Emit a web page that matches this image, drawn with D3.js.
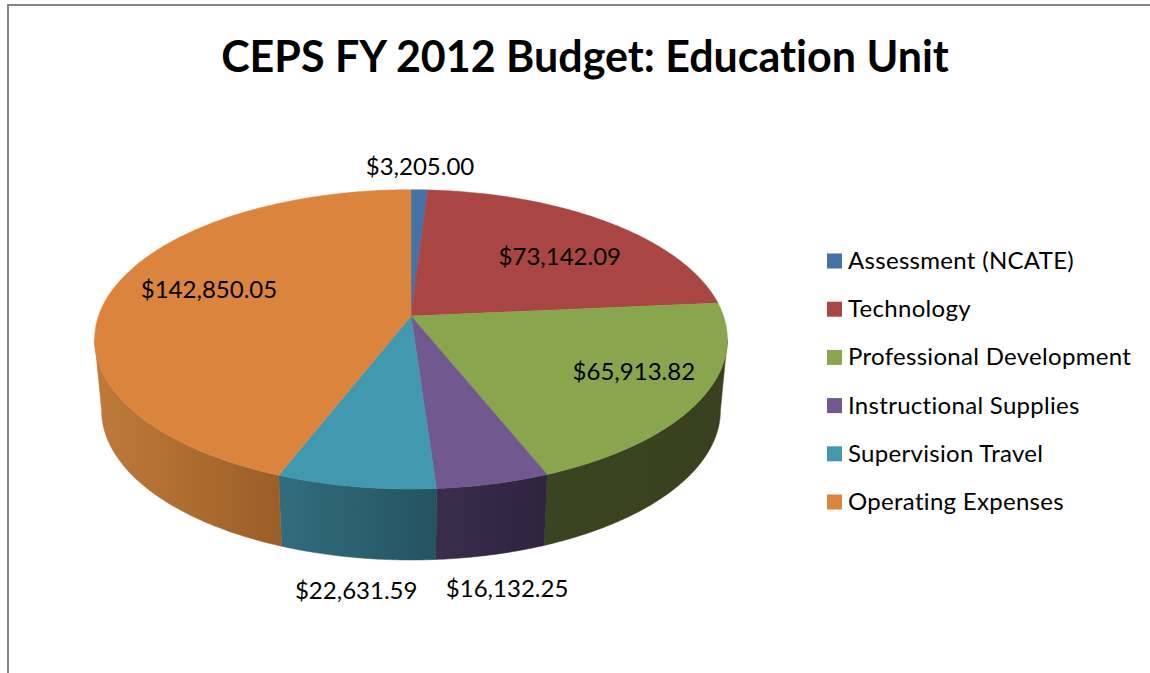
<!DOCTYPE html>
<html>
<head>
<meta charset="utf-8">
<title>CEPS FY 2012 Budget: Education Unit</title>
<script src="https://cdn.jsdelivr.net/npm/d3@7"></script>
<style>
    html, body { margin: 0; padding: 0; background: #fff; overflow: hidden; }
    svg { display: block; }
    text { font-family: Lato, "Open Sans", sans-serif; fill: #000; font-variant-ligatures: none; }
</style>
</head>
<body>
<div id="chart"></div>
<script>
var chartTitle = "CEPS FY 2012 Budget: Education Unit";
var categories = ["Assessment (NCATE)", "Technology", "Professional Development", "Instructional Supplies", "Supervision Travel", "Operating Expenses"];
var budget = [3205.00, 73142.09, 65913.82, 16132.25, 22631.59, 142850.05];

var topColors = ["#4573a7", "#a94543", "#89a54e", "#71588f", "#4198af", "#db843d"];
var wallLeft = ["#2c4a6c", "#6d2c2b", "#3b4421", "#3a2c4b", "#326d7e", "#bf7a39"];
var wallRight = ["#2c4a6c", "#6d2c2b", "#39401f", "#2f2340", "#245361", "#9b5e28"];

// label nudges from the point 3/4 of the way out on each slice
var labelNudge = [[2.5, -51], [-2, 13], [10, -5], [37, 153], [-15, 153], [23.5, -6]];

var w = 1150, h = 673;
var cx = 411, cy = 316;
var radiusX = 312.5, radiusY = 146;
var tilt = 0.156;                  // perspective, near edge of the pie comes out bigger
var depth = 71, bottomShrink = 0.978;

var svg = d3.select("#chart").append("svg")
    .attr("width", w)
    .attr("height", h);

// Chart frame, only the top and left edges are inside the picture
svg.append("path")
    .attr("d", d3.line()([[8, h], [8, 5], [w, 5]]))
    .attr("fill", "none")
    .attr("stroke", "#868686")
    .attr("stroke-width", 2);

svg.append("text")
    .attr("x", 585)
    .attr("y", 72)
    .attr("text-anchor", "middle")
    .attr("font-size", 43)
    .attr("font-weight", 700)
    .text(chartTitle);

var slices = d3.pie().sort(null)(budget);

// Angle is clockwise from the top like d3.pie, r is a fraction of the radius
function project(angle, r) {
    var u = Math.sin(angle) * r;
    var v = -Math.cos(angle) * r;
    var den = 1 - tilt * v;
    return [cx + radiusX * u / den, cy + radiusY * v / den];
}

function projectBottom(angle) {
    var p = project(angle, 1);
    return [cx + (p[0] - cx) * bottomShrink, p[1] + depth];
}

function arcAngles(a0, a1) {
    var n = Math.max(2, Math.ceil(Math.abs(a1 - a0) / 0.01));
    return d3.range(n + 1).map(function(i) { return a0 + (a1 - a0) * i / n; });
}

var line = d3.line();

// The side wall shows only between the two points where the rim turns back
var wallFrom = Math.PI - Math.acos(tilt);
var wallTo = Math.PI + Math.acos(tilt);

var defs = svg.append("defs");

slices.forEach(function(s, i) {
    var a0 = Math.max(s.startAngle, wallFrom);
    var a1 = Math.min(s.endAngle, wallTo);
    if (a1 <= a0) return;

    var angles = arcAngles(a0, a1);
    var outline = angles.map(function(a) { return project(a, 1); })
        .concat(angles.slice().reverse().map(projectBottom));

    var xs = d3.extent(outline, function(p) { return p[0]; });
    var grad = defs.append("linearGradient")
        .attr("id", "wall" + i)
        .attr("gradientUnits", "userSpaceOnUse")
        .attr("x1", xs[0]).attr("x2", xs[1])
        .attr("y1", 0).attr("y2", 0);
    grad.append("stop").attr("offset", 0).attr("stop-color", wallLeft[i]);
    grad.append("stop").attr("offset", 1).attr("stop-color", wallRight[i]);

    svg.append("path")
        .attr("d", line(outline) + "Z")
        .attr("fill", "url(#wall" + i + ")")
        .attr("stroke", "url(#wall" + i + ")")
        .attr("stroke-width", 0.5);
});

// Top of the pie
svg.selectAll(".slice")
    .data(slices)
    .enter().append("path")
    .attr("class", "slice")
    .attr("d", function(d) {
        var rim = arcAngles(d.startAngle, d.endAngle).map(function(a) { return project(a, 1); });
        return line([[cx, cy]].concat(rim)) + "Z";
    })
    .attr("fill", function(d, i) { return topColors[i]; })
    .attr("stroke", function(d, i) { return topColors[i]; })
    .attr("stroke-width", 0.5);

// Data labels
var money = d3.format("$,.2f");
svg.selectAll(".value")
    .data(slices)
    .enter().append("text")
    .attr("class", "value")
    .attr("text-anchor", "middle")
    .attr("font-size", 24)
    .attr("x", function(d, i) { return project((d.startAngle + d.endAngle) / 2, 0.75)[0] + labelNudge[i][0]; })
    .attr("y", function(d, i) { return project((d.startAngle + d.endAngle) / 2, 0.75)[1] + labelNudge[i][1] + 8; })
    .text(function(d) { return money(d.value); });

// Legend
var legendY = d3.scalePoint().domain(categories).range([261, 502]);
var legend = svg.selectAll(".legend")
    .data(categories)
    .enter().append("g")
    .attr("class", "legend")
    .attr("transform", function(d) { return "translate(827," + legendY(d) + ")"; });

legend.append("rect")
    .attr("y", -7.5)
    .attr("width", 15)
    .attr("height", 15)
    .attr("fill", function(d, i) { return topColors[i]; });

legend.append("text")
    .attr("x", 21)
    .attr("y", 8)
    .attr("font-size", 24)
    .attr("letter-spacing", 0.3)
    .text(function(d) { return d; });
</script>
</body>
</html>
